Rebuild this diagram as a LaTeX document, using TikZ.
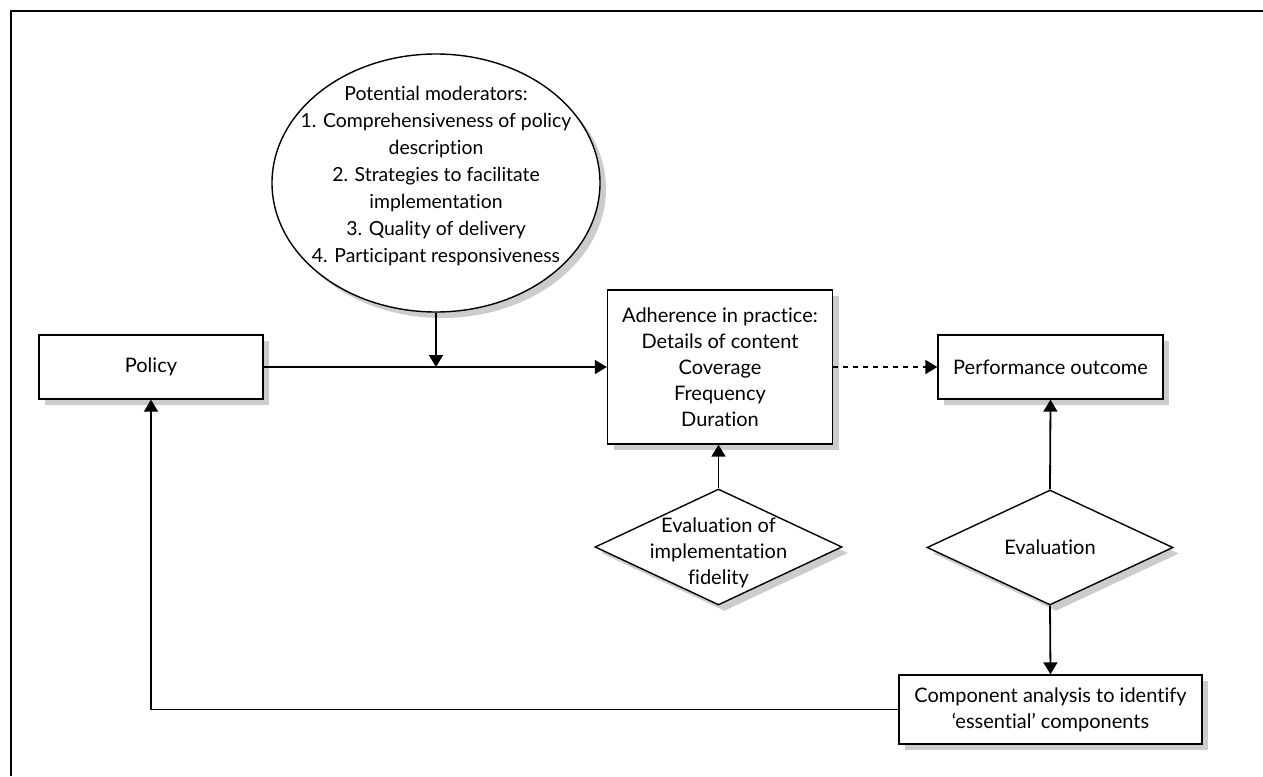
\documentclass[tikz,border=0pt]{standalone}
\usepackage{fontspec}
\setmainfont{Lato}[Ligatures={NoCommon,NoRare}]
\usetikzlibrary{shapes.geometric,shadows,arrows.meta}
\begin{document}
\begin{tikzpicture}[x=0.5pt,y=-0.5pt,
  every node/.style={font=\fontsize{10}{13}\selectfont, align=center},
  shadowed/.style={draw, line width=0.7pt, fill=white, inner sep=0pt,
    drop shadow={shadow xshift=3pt, shadow yshift=-3pt, fill=black!20, opacity=1}},
  box/.style={shadowed, rectangle},
  oval/.style={shadowed, ellipse},
  rhomb/.style={shadowed, diamond},
  arr/.style={line width=0.9pt, -{Triangle[length=6pt,width=7pt]}},
  frame/.style={line width=1.1pt}]
\useasboundingbox (0,0) rectangle (1263,776);

% open frame: top and left edges only
\draw[frame] (1263,11) -- (11,11) -- (11,776);

% nodes
\node[box, minimum width=112pt, minimum height=32pt] (pol) at (151,367) {Policy};
\node[oval, minimum width=164pt, minimum height=129pt] (mod) at (436,183) {};
\node[font=\fontsize{9.7}{13.5}\selectfont] at (436,176)
  {Potential moderators:\\1. Comprehensiveness of policy\\description\\2. Strategies to facilitate\\implementation\\3. Quality of delivery\\4. Participant responsiveness};
\node[box, minimum width=112.5pt, minimum height=77pt] (adh) at (720,367)
  {Adherence in practice:\\Details of content\\Coverage\\Frequency\\Duration};
\node[box, minimum width=112.5pt, minimum height=32pt] (perf) at (1050.5,367) {Performance outcome};
\node[rhomb, minimum width=123.5pt, minimum height=58pt] (fid) at (718.5,547) {};
\node at (718.5,553) {Evaluation of\\implementation\\fidelity};
\node[rhomb, minimum width=123pt, minimum height=57.5pt] (eval) at (1050,547.5) {};
\node at (eval) {Evaluation};
\node[box, minimum width=151.5pt, minimum height=34.5pt] (comp) at (1050.5,709.5)
  {Component analysis to identify\\`essential' components};

% connectors
\coordinate (join) at (mod.south |- pol.east);
\draw[arr] (pol.east) -- (adh.west);
\draw[arr] (mod.south) -- (join);
\draw[arr, dash pattern=on 2.5pt off 2.5pt] (adh.east |- perf.west) -- (perf.west);
\draw[arr] (fid.north) -- (fid.north |- adh.south);
\draw[arr] (eval.north) -- (perf.south);
\draw[arr] (eval.south) -- (comp.north);
\draw[arr] (comp.west) -| (pol.south);
\end{tikzpicture}
\end{document}
